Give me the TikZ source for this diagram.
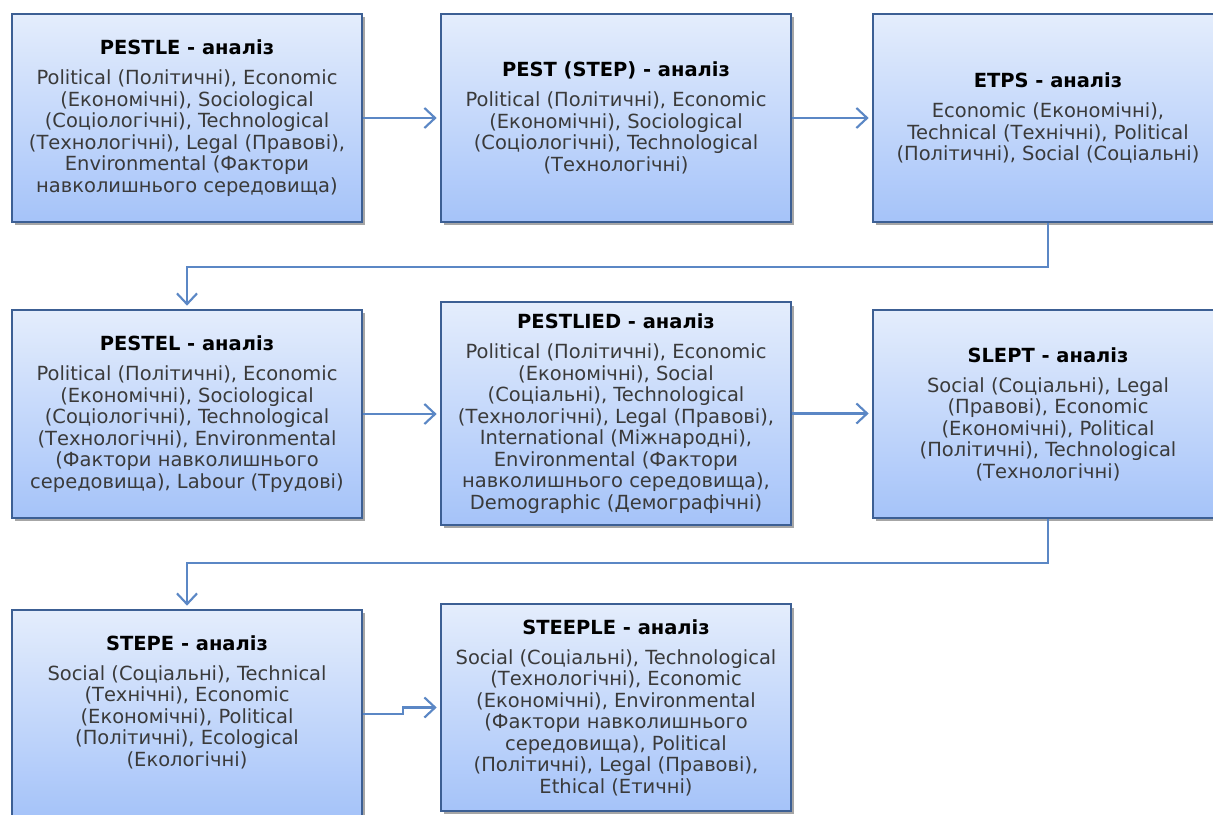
\documentclass[tikz,border=0pt]{standalone}
\usepackage{fontspec}
\setmainfont{DejaVu Sans}
\usepackage{tikz}
\usetikzlibrary{arrows.meta,shadows,calc}
\definecolor{boxline}{HTML}{3C5F94}
\definecolor{boxtop}{HTML}{E4EDFC}
\definecolor{boxbottom}{HTML}{A5C3F9}
\definecolor{linkcol}{HTML}{5B87C5}
\definecolor{bodytext}{HTML}{3A3A3A}
\newcommand{\boxtitle}[1]{{\color{black}\bfseries #1}\\[6.5pt]}

\begin{document}
\begin{tikzpicture}[x=0.75pt, y=-0.75pt,
analysis/.style={rectangle, draw=boxline, line width=1.5pt, top color=boxtop, bottom color=boxbottom,
  minimum width=262.5pt, align=center, text=bodytext, font=\fontsize{14.6}{16.1}\selectfont,
  drop shadow={shadow xshift=2.5pt, shadow yshift=-2.5pt, opacity=.35, fill=black}},
link/.style={draw=linkcol, line width=1.6pt, -{Straight Barb[length=8pt,width=15pt]}, shorten >=2.5pt}
    ]
  \useasboundingbox (0,0) rectangle (1213,814);
  \clip (0,0) rectangle (1213,814);
  \fill[white] (0,0) rectangle (1213,814);

  % first row
  \node[analysis, minimum height=156pt] (pestle) at (187,118)
    {\boxtitle{PESTLE - аналіз}
     Political (Політичні), Economic\\ (Економічні), Sociological\\ (Соціологічні), Technological\\
     (Технологічні), Legal (Правові),\\ Environmental (Фактори\\ навколишнього середовища)};
  \node[analysis, minimum height=156pt] (pest) at (616,118)
    {\boxtitle{PEST (STEP) - аналіз}
     Political (Політичні), Economic\\ (Економічні), Sociological\\ (Соціологічні), Technological\\
     (Технологічні)};
  \node[analysis, minimum height=156pt] (etps) at (1048,118)
    {\boxtitle{ETPS - аналіз}
     Economic (Економічні),\\ Technical (Технічні), Political\\ (Політичні), Social (Соціальні)};

  % second row
  \node[analysis, minimum height=156pt] (pestel) at (187,414)
    {\boxtitle{PESTEL - аналіз}
     Political (Політичні), Economic\\ (Економічні), Sociological\\ (Соціологічні), Technological\\
     (Технологічні), Environmental\\ (Фактори навколишнього\\ середовища), Labour (Трудові)};
  \node[analysis, minimum height=167pt] (pestlied) at (616,413.5)
    {\boxtitle{PESTLIED - аналіз}
     Political (Політичні), Economic\\ (Економічні), Social\\ (Соціальні), Technological\\
     (Технологічні), Legal (Правові),\\ International (Міжнародні),\\ Environmental (Фактори\\
     навколишнього середовища),\\ Demographic (Демографічні)};
  \node[analysis, minimum height=156pt] (slept) at (1048,414)
    {\boxtitle{SLEPT - аналіз}
     Social (Соціальні), Legal\\ (Правові), Economic\\ (Економічні), Political\\
     (Політичні), Technological\\ (Технологічні)};

  % third row
  \node[analysis, minimum height=156pt] (stepe) at (187,714)
    {\boxtitle{STEPE - аналіз}
     Social (Соціальні), Technical\\ (Технічні), Economic\\ (Економічні), Political\\
     (Політичні), Ecological\\ (Екологічні)\\[4pt]};
  \node[analysis, minimum height=155pt] (steeple) at (616,707.5)
    {\boxtitle{STEEPLE - аналіз}
     Social (Соціальні), Technological\\ (Технологічні), Economic\\ (Економічні), Environmental\\
     (Фактори навколишнього\\ середовища), Political\\ (Політичні), Legal (Правові),\\ Ethical (Етичні)};

  % connectors
  \draw[link] (pestle) -- (pest);
  \draw[link] (pest) -- (etps);
  \draw[link] (etps.south) -- ++(0,44) -| (pestel.north);
  \draw[link] (pestel.east) -- (pestel.east -| pestlied.west);
  \draw[link] (pestlied.east) -- (pestlied.east -| slept.west);
  \draw[link] (slept.south) -- ++(0,44) -| (stepe.north);
  \draw[link] (stepe.east) -- ++(40,0) |- (steeple.west);
\end{tikzpicture}
\end{document}
